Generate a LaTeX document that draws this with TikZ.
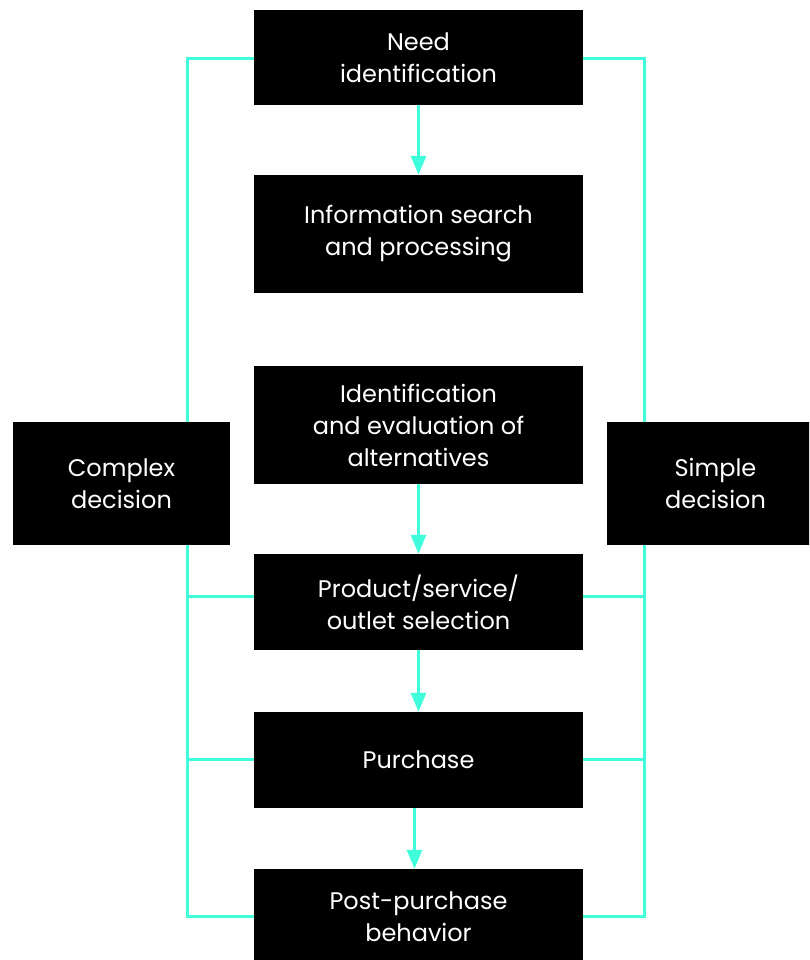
\documentclass[tikz,border=0pt]{standalone}
\usepackage{fontspec}
\setmainfont{Poppins}
\usetikzlibrary{arrows.meta,calc}
\definecolor{teal1}{RGB}{64,253,220}
\begin{document}
\begin{tikzpicture}[x=1pt,y=-1pt,
  box/.style={fill=black,text=white,draw=none,inner sep=0pt,align=center,
    font=\fontsize{24}{32}\selectfont},
  link/.style={draw=teal1,line width=3pt},
  arr/.style={link,-{Triangle[width=15pt,length=19pt]}}]
\useasboundingbox (0,0) rectangle (809,960);
\begin{scope}
\clip (0,0) rectangle (809,960);
\node[box,minimum width=329pt,minimum height=95pt] (need) at (418.5,57.5) {Need\\identification};
\node[box,minimum width=329pt,minimum height=118pt] (info) at (418.5,234) {Information search\\and processing};
\node[box,minimum width=329pt,minimum height=118pt] (ident) at (418.5,425) {Identification\\and evaluation of\\alternatives};
\node[box,minimum width=329pt,minimum height=96pt] (prod) at (418.5,602) {Product/service/\\outlet selection};
\node[box,minimum width=329pt,minimum height=96pt] (purch) at (418.5,760) {Purchase};
\node[box,minimum width=329pt,minimum height=96pt] (post) at (418.5,917) {Post-purchase\\behavior};
\node[box,minimum width=217pt,minimum height=123pt] (complex) at (121.5,483.5) {Complex\\decision};
\node[box,minimum width=217pt,minimum height=123pt] (simple) at (715.5,483.5) {Simple\\decision};
\end{scope}
\coordinate (L) at (187,59);
\coordinate (R) at (644,59);
\coordinate (b1) at (0,596);
\coordinate (b2) at (0,759);
\coordinate (b3) at (0,916);
% left
\draw[link] (need.west|-L) -- (L) -- (L|-complex.north);
\draw[link] (L|-complex.south) -- (L|-b3) -- (post.west|-b3);
\draw[link] (L|-b1) -- (prod.west|-b1);
\draw[link] (L|-b2) -- (purch.west|-b2);
% right
\draw[link] (need.east|-R) -- (R) -- (R|-simple.north);
\draw[link] (R|-simple.south) -- (R|-b3) -- (post.east|-b3);
\draw[link] (R|-b1) -- (prod.east|-b1);
\draw[link] (R|-b2) -- (purch.east|-b2);
% arrows
\draw[arr] (need.south) -- (info.north);
\draw[arr] (ident.south) -- (prod.north);
\draw[arr] (prod.south) -- (purch.north);
\draw[arr] ([xshift=-4pt]purch.south) -- ([xshift=-4pt]post.north);
\end{tikzpicture}
\end{document}
